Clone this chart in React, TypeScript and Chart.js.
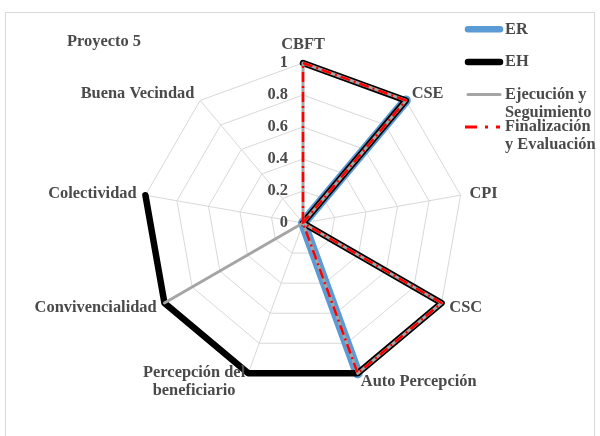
import React, { useEffect, useRef } from 'react';
import { Chart, registerables } from 'chart.js';

Chart.register(...registerables);

const chartTitle = 'Proyecto 5';
const categories: (string | string[])[] = [
  'CBFT',
  'CSE',
  'CPI',
  'CSC',
  'Auto Percepción',
  ['Percepción del', 'beneficiario'],
  'Convivencialidad',
  'Colectividad',
  'Buena Vecindad',
];
const seriesNames: string[][] = [['ER'], ['EH'], ['Ejecución y', 'Seguimiento'], ['Finalización', 'y Evaluación']];
const erValues = [0, 1, 0, 0, 1, 0, 0, 0, 0];
const ehValues = [1, 1, 0, 1, 1, 1, 1, 1, null];
const ejecucionValues = [1, 1, 0, 1, 1, 0, 1, 0, 0];
const finalizacionValues = [1, 1, 0, 1, 1, 0, 0, 0, 0];
const tickValues = [0, 0.2, 0.4, 0.6, 0.8, 1];
const tickLabels = ['0', '0.2', '0.4', '0.6', '0.8', '1'];

const FONT = 'bold 16.4px "Liberation Serif", "Times New Roman", serif';
const TEXT = '#4a4a4a';
const GRID = '#d9d9d9';
const BLUE = '#5b9bd5';
const BLACK = '#000000';
const GRAY = '#a5a5a5';
const RED = '#ff0000';
const RED_DASH = [10, 4, 2, 4];

const legendStyles = [
  { color: BLUE, width: 6.5, dash: [] as number[] },
  { color: BLACK, width: 6.5, dash: [] as number[] },
  { color: GRAY, width: 3, dash: [] as number[] },
  { color: RED, width: 3, dash: [12, 8, 3, 8] },
];

const overlay = {
  id: 'overlay',
  beforeDraw(chart: any) {
    const ctx = chart.ctx;
    ctx.save();
    ctx.fillStyle = '#ffffff';
    ctx.fillRect(0, 0, chart.width, chart.height);
    ctx.strokeStyle = GRID;
    ctx.lineWidth = 1;
    ctx.strokeRect(5.5, 12.5, chart.width - 11, chart.height + 10);
    ctx.restore();
  },
  afterDraw(chart: any) {
    const ctx = chart.ctx;
    const scale = chart.scales.r;
    ctx.save();
    ctx.font = FONT;
    ctx.fillStyle = TEXT;

    // title
    ctx.textAlign = 'left';
    ctx.textBaseline = 'middle';
    ctx.fillText(chartTitle, 67, 42);

    // tick labels
    ctx.textAlign = 'right';
    tickValues.forEach((v, i) => {
      const d = scale.getDistanceFromCenterForValue(v);
      ctx.fillText(tickLabels[i], scale.xCenter - 15, scale.yCenter - d);
    });

    // point labels
    const labels = chart.data.labels as (string | string[])[];
    const n = labels.length;
    const lh = 18;
    ctx.textAlign = 'center';
    labels.forEach((lab, i) => {
      const lines = Array.isArray(lab) ? lab : [lab];
      const angle = (360 * i) / n;
      const p = scale.getPointPosition(i, scale.drawingArea + 9);
      const w = Math.max(...lines.map((l) => ctx.measureText(l).width));
      const h = lines.length * lh;
      let cx = p.x;
      let top = p.y - h / 2;
      if (angle === 0) {
        top = p.y - h;
      } else if (angle === 180) {
        top = p.y;
      } else if (angle < 180) {
        cx = p.x + w / 2;
      } else {
        cx = p.x - w / 2;
      }
      lines.forEach((l, j) => ctx.fillText(l, cx, top + lh / 2 + j * lh));
    });

    // legend
    const lx = chart.width - 135;
    seriesNames.forEach((name, k) => {
      const y = 29.3 + k * 32.6;
      const st = legendStyles[k];
      ctx.save();
      ctx.strokeStyle = st.color;
      ctx.lineWidth = st.width;
      ctx.lineCap = st.dash.length ? 'butt' : 'round';
      ctx.setLineDash(st.dash);
      ctx.beginPath();
      ctx.moveTo(lx + (st.dash.length ? 0 : 3), y);
      ctx.lineTo(lx + 35, y);
      ctx.stroke();
      ctx.restore();
      ctx.textAlign = 'left';
      ctx.textBaseline = 'middle';
      name.forEach((l, j) => ctx.fillText(l, lx + 40, y + j * 18));
    });
    ctx.restore();
  },
};

export default function App() {
  const ref = useRef<HTMLCanvasElement>(null);
  useEffect(() => {
    const common = {
      fill: false,
      pointRadius: 0,
      pointHoverRadius: 0,
      borderJoinStyle: 'round' as const,
      borderCapStyle: 'round' as const,
      tension: 0,
      spanGaps: false,
      backgroundColor: 'rgba(0,0,0,0)',
    };
    const chart = new Chart(ref.current as HTMLCanvasElement, {
      type: 'radar',
      data: {
        labels: categories as any,
        datasets: [
          { ...common, label: seriesNames[3].join(' '), data: finalizacionValues, borderColor: RED, borderWidth: 2.5, borderDash: RED_DASH, borderCapStyle: 'butt' },
          { ...common, label: seriesNames[2].join(' '), data: ejecucionValues, borderColor: GRAY, borderWidth: 3 },
          { ...common, label: seriesNames[1].join(' '), data: ehValues as any, borderColor: BLACK, borderWidth: 6.5 },
          { ...common, label: seriesNames[0].join(' '), data: erValues, borderColor: BLUE, borderWidth: 10 },
        ],
      },
      options: {
        responsive: false,
        animation: false,
        layout: { padding: { left: 143, right: 137, top: 63, bottom: 53 } },
        plugins: { legend: { display: false }, tooltip: { enabled: false }, title: { display: false } },
        scales: {
          r: {
            min: 0,
            max: 1,
            ticks: { display: false, stepSize: 0.2 },
            pointLabels: { display: false },
            grid: { color: GRID, lineWidth: 1 },
            angleLines: { color: GRID, lineWidth: 1 },
          },
        },
      },
      plugins: [overlay],
    });
    return () => chart.destroy();
  }, []);
  return (
    <div style={{ position: 'absolute', left: 0, top: 0, width: 600, height: 436 }}>
      <canvas ref={ref} width={600} height={436} style={{ display: 'block' }} />
    </div>
  );
}
